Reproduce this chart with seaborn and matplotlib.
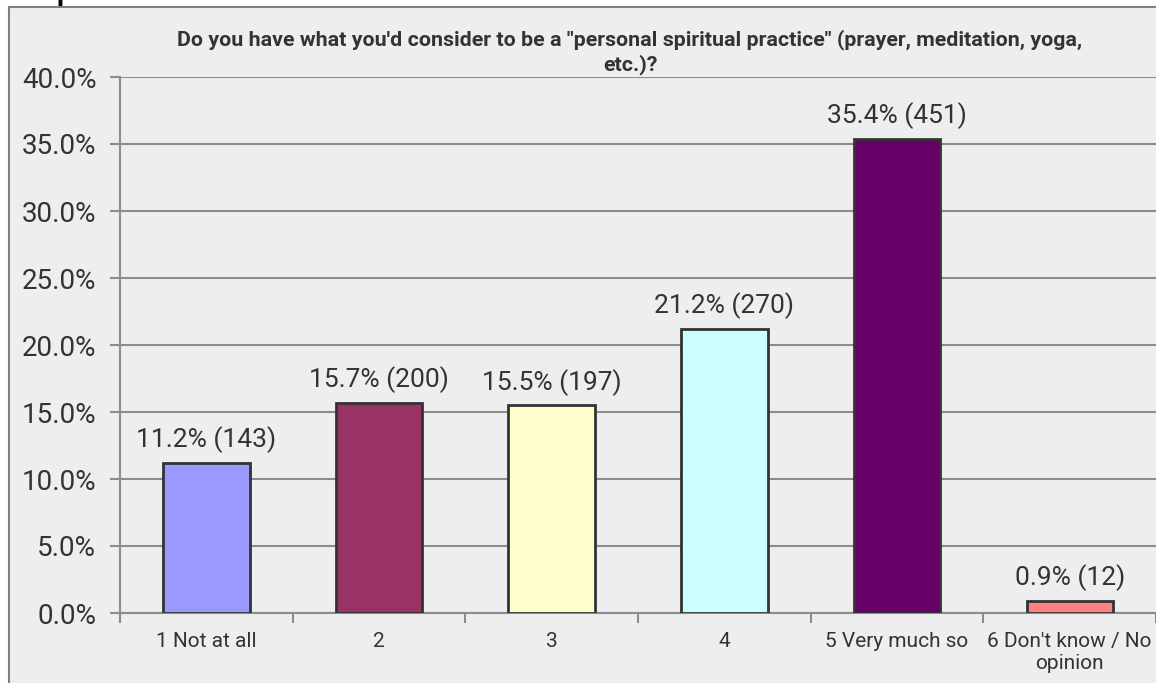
import numpy as np
import pandas as pd
import seaborn as sns
import matplotlib.pyplot as plt
from matplotlib import font_manager
from matplotlib.patches import Rectangle
from matplotlib.ticker import FixedLocator, FuncFormatter

# survey answers
categories = ["1 Not at all", "2", "3", "4", "5 Very much so", "6 Don't know / No\nopinion"]
percents = [11.2, 15.7, 15.5, 21.2, 35.4, 0.9]
counts = [143, 200, 197, 270, 451, 12]
colors = ["#9999FF", "#993366", "#FFFFCC", "#CCFFFF", "#660066", "#FF8080"]
title = "Do you have what you'd consider to be a \"personal spiritual practice\" (prayer, meditation, yoga,\netc.)?"

sns.set_theme(style="white")
plt.rcParams['font.family'] = ['Roboto', 'DejaVu Sans']

names = {f.name for f in font_manager.fontManager.ttflist}
title_font = 'Liberation Sans Narrow' if 'Liberation Sans Narrow' in names else 'Roboto'

txt = "#333333"
grid = "#8c8c8c"

fig = plt.figure(figsize=(11.56, 6.83), dpi=100)
fig.patch.set_facecolor("white")
# grey panel behind the chart
fig.patches.append(Rectangle((9 / 1156, -0.1), 1.2, 1.1 - 7 / 683,
                             transform=fig.transFigure, facecolor="#EEEEEE",
                             edgecolor="#808080", linewidth=1.5, zorder=-5))
# bit of the page text above, cut off at the top edge
fig.text(57 / 1156, 1.0, "p", ha="left", va="baseline", fontsize=20,
         fontweight="bold", color="black")

ax = fig.add_axes([120 / 1156, 1 - 613 / 683, 1 - 120 / 1156, (613 - 77) / 683])
ax.set_facecolor("none")

df = pd.DataFrame({"cat": categories, "pct": percents})
sns.barplot(data=df, x="cat", y="pct", hue="cat", palette=colors, legend=False,
            saturation=1, width=0.5, edgecolor="#333333", linewidth=2, ax=ax, zorder=3)

ax.set_ylim(0, 40)
ax.set_xlim(-0.5, len(categories) - 0.5)
ax.set_yticks(np.arange(0, 40.1, 5))
ax.yaxis.set_major_formatter(FuncFormatter(lambda v, p: f"{v:.1f}%"))
ax.grid(axis="y", color=grid, linewidth=1.5, zorder=0)
ax.set_axisbelow(True)

ax.xaxis.set_minor_locator(FixedLocator(np.arange(-0.5, len(categories), 1)))
ax.tick_params(axis="x", which="major", length=0, pad=14, labelsize=15, labelcolor=txt)
ax.tick_params(axis="x", which="minor", length=7, width=1.5, color=grid, direction="out", bottom=True)
ax.tick_params(axis="y", length=7, width=1.5, color=grid, pad=10, labelsize=20, labelcolor=txt, left=True)

for s in ["top", "right"]:
    ax.spines[s].set_visible(False)
ax.spines["left"].set_color(grid)
ax.spines["left"].set_linewidth(1.5)
ax.spines["bottom"].set_color(grid)
ax.spines["bottom"].set_linewidth(1.5)
ax.set_xlabel("")
ax.set_ylabel("")

for i, (p, c) in enumerate(zip(percents, counts)):
    ax.annotate(f"{p}% ({c})", (i, p), xytext=(0, 7), textcoords="offset points",
                ha="center", va="bottom", fontsize=19, color=txt)

fig.text(0.545, 1 - 52 / 683, title, ha="center", va="center", fontsize=15.4,
         fontweight="bold", family=[title_font, 'DejaVu Sans'], color=txt, linespacing=1.3)

fig.savefig("out.png", dpi=100)
